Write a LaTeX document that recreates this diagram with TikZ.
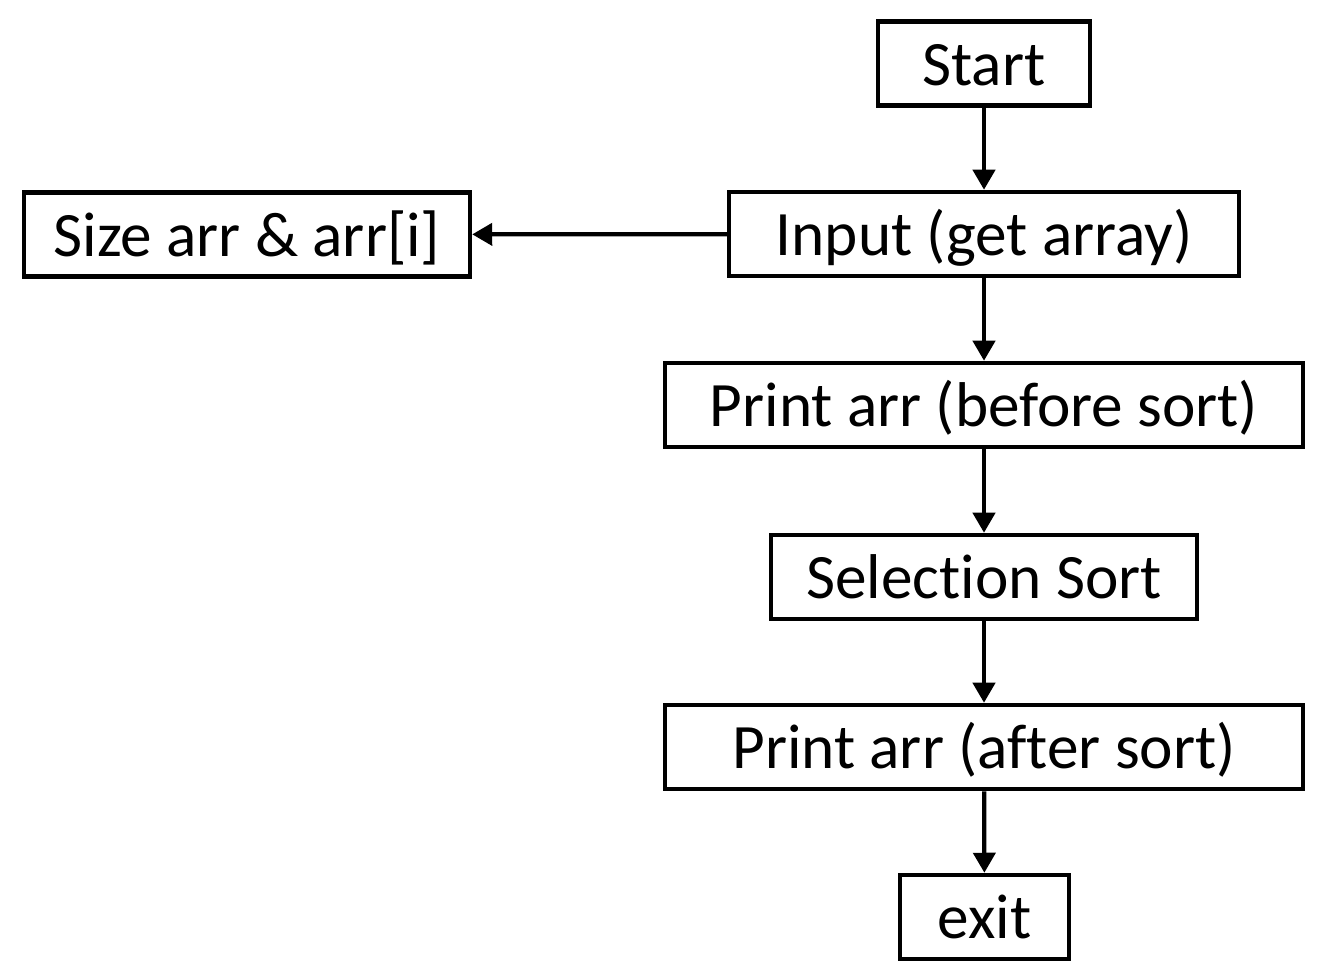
\documentclass[tikz,border=0pt]{standalone}
\usepackage{fontspec}
\setmainfont{Carlito}[Ligatures={NoCommon}]
\usetikzlibrary{arrows.meta}
\begin{document}
\begin{tikzpicture}[x=0.02cm,y=-0.02cm,
  box/.style={draw=black, line width=2.6pt, fill=white, inner sep=0pt,
    minimum height=1.68cm, font=\fontsize{36}{40}\selectfont,
    text height=32pt, text depth=7pt, align=center},
  conn/.style={line width=2.4pt, -{Triangle[width=0.44cm,length=0.4cm]}}]
\useasboundingbox (0,0) rectangle (1331,978);
\node[box, minimum width=4.24cm]  (start) at (984,63.5) {Start};
\node[box, minimum width=10.2cm]  (input) at (984,234) {Input (get array)};
\node[box, minimum width=8.92cm]  (size)  at (247,234.5) {Size arr \& arr[i]};
\node[box, minimum width=12.76cm] (before) at (984,405) {Print arr (before sort)};
\node[box, minimum width=8.52cm]  (sel)   at (984,577) {Selection Sort};
\node[box, minimum width=12.76cm] (after) at (984,747) {Print arr (after sort)};
\node[box, minimum width=3.38cm]  (exit)  at (984.5,917) {exit};
\draw[conn] (start) -- (input);
\draw[conn] (input) -- (size);
\draw[conn] (input) -- (before);
\draw[conn] (before) -- (sel);
\draw[conn] (sel) -- (after);
\draw[conn] (after) -- (exit);
\end{tikzpicture}
\end{document}
